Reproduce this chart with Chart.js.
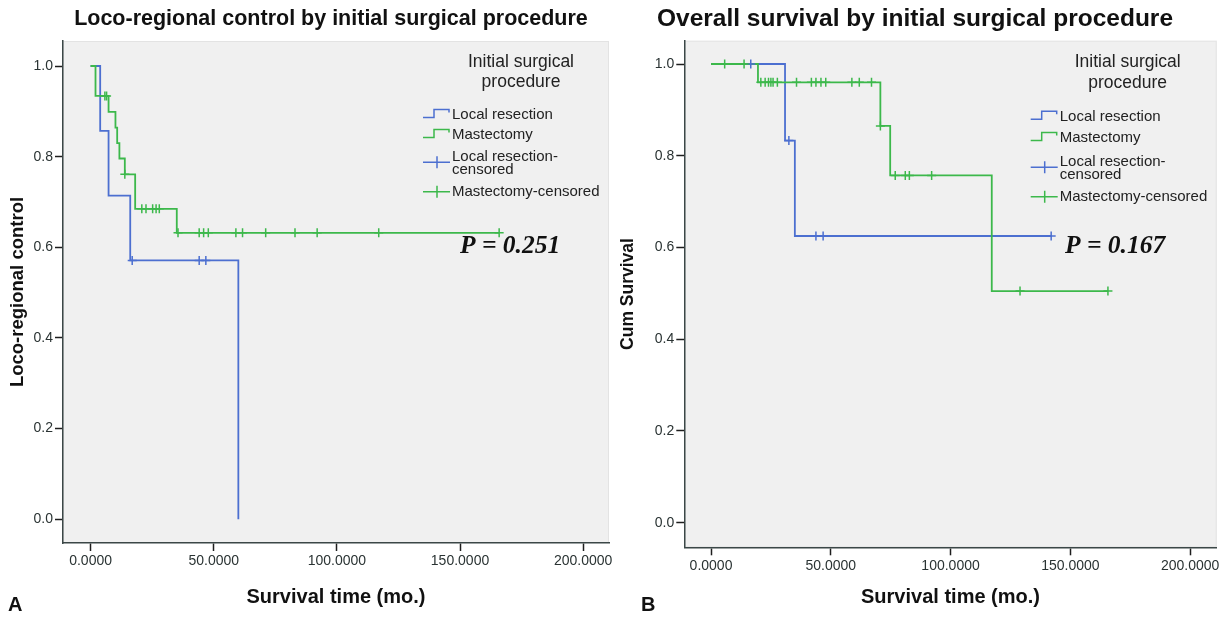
<!DOCTYPE html>
<html lang="en">
  <head>
    <meta charset="UTF-8" />
    <title>Loco-regional control and overall survival by initial surgical procedure</title>
    <script src="https://cdn.jsdelivr.net/npm/chart.js@4"></script>
    <style>
      body {
        margin: 0;
        width: 1230px;
        height: 619px;
        position: relative;
        overflow: hidden;
        background: #ffffff;
        font-family: Arial, 'Liberation Sans', sans-serif;
        color: #111;
      }

      canvas {
        position: absolute;
        top: 0;
      }

      #chartA {
        left: 0;
      }

      #chartB {
        left: 615px;
      }

      .chart-title {
        position: absolute;
        width: 640px;
        text-align: center;
        font-weight: bold;
        white-space: nowrap;
      }

      .panel-tag {
        position: absolute;
        top: 593px;
        font-weight: bold;
        font-size: 20px;
        line-height: 22px;
      }
    </style>
  </head>
  <body>
    <canvas id="chartA" width="615" height="619"></canvas>
    <canvas id="chartB" width="615" height="619"></canvas>

    <div class="chart-title" style="left: 11px; top: 5px; font-size: 21.5px; line-height: 26px">Loco-regional control by initial surgical procedure</div>
    <div class="chart-title" style="left: 595px; top: 4px; font-size: 24.5px; line-height: 28px">Overall survival by initial surgical procedure</div>
    <div class="panel-tag" style="left: 8px">A</div>
    <div class="panel-tag" style="left: 641px">B</div>

    <script>
      const xTicks = [0, 50, 100, 150, 200]
      const yTicks = [0, 0.2, 0.4, 0.6, 0.8, 1.0]

      const groupNames = ['Local resection', 'Mastectomy']
      const legendTitle = ['Initial surgical', 'procedure']

      // A - loco-regional control (step times in months, value after the step)
      const lcLocalTime = [0, 3.9, 7.3, 16.1, 60.0]
      const lcLocalSurv = [1.0, 0.857, 0.714, 0.571, 0.0]
      const lcLocalCens = [16.9, 44.1, 46.8]

      const lcMastTime = [0, 2.0, 7.3, 10.1, 10.8, 11.7, 13.9, 18.1, 35.0, 165.9]
      const lcMastSurv = [1.0, 0.934, 0.899, 0.864, 0.830, 0.796, 0.761, 0.685, 0.632, 0.632]
      const lcMastCens = [5.8, 6.5, 13.9, 20.8, 22.5, 25.2, 26.6, 27.9, 35.5, 44.1, 45.9, 47.8, 59.0, 61.7, 71.1, 83.0, 92.0, 117.0, 165.9]

      // B - overall survival
      const osLocalTime = [0, 30.9, 35.0, 142.0]
      const osLocalSurv = [1.0, 0.833, 0.625, 0.625]
      const osLocalCens = [16.6, 32.5, 43.8, 46.8, 142.0]

      const osMastTime = [0, 19.6, 70.7, 74.8, 117.2, 165.7]
      const osMastSurv = [1.0, 0.960, 0.865, 0.757, 0.505, 0.505]
      const osMastCens = [5.7, 13.8, 20.8, 22.6, 24.0, 25.0, 25.9, 27.7, 35.7, 41.9, 43.8, 45.9, 47.9, 58.8, 61.9, 67.0, 70.7, 76.9, 81.1, 82.8, 92.1, 129.0, 165.7]

      const BLUE = '#4c6fd0'
      const GREEN = '#3cb84b'
      const AXIS = '#3b4747'
      const FONT = 'Arial, "Liberation Sans", sans-serif'

      function stepAt(times, surv, t) {
        let s = surv[0]
        for (let i = 0; i < times.length; i++) {
          if (times[i] <= t) s = surv[i]
        }
        return s
      }

      function curvePoints(times, surv) {
        return times.map((t, i) => ({ x: t, y: surv[i] }))
      }

      function censorPoints(cens, times, surv) {
        return cens.map(t => ({ x: t, y: stepAt(times, surv, t) }))
      }

      function stepLine(points, color) {
        return {
          data: points,
          borderColor: color,
          borderWidth: 1.8,
          stepped: 'before',
          pointRadius: 0,
          fill: false,
        }
      }

      function censorMarks(points, color) {
        return {
          data: points,
          showLine: false,
          pointStyle: 'cross',
          pointRadius: 4.5,
          pointBorderColor: color,
          pointBorderWidth: 1.5,
          borderColor: color,
        }
      }

      // plot background, legend and p value
      const kmOverlay = {
        id: 'kmOverlay',
        beforeDraw(chart) {
          const { ctx, chartArea: a } = chart
          ctx.save()
          ctx.fillStyle = '#f0f0f0'
          ctx.fillRect(a.left, a.top, a.width, a.height)
          ctx.strokeStyle = '#e3e3e3'
          ctx.lineWidth = 1
          ctx.strokeRect(a.left + 0.5, a.top + 0.5, a.width - 1, a.height - 1)
          ctx.restore()
        },
        afterDraw(chart, args, opts) {
          const { ctx, chartArea: a } = chart
          const x0 = a.right + opts.textOffset
          ctx.save()
          ctx.fillStyle = '#222'
          ctx.textBaseline = 'middle'

          ctx.font = '17.5px ' + FONT
          ctx.textAlign = 'center'
          legendTitle.forEach((line, i) => {
            ctx.fillText(line, a.right + opts.titleCenter, a.top + opts.titleY[i])
          })

          ctx.font = '15px ' + FONT
          ctx.textAlign = 'left'
          const items = [
            { lines: [groupNames[0]], color: BLUE, kind: 'step' },
            { lines: [groupNames[1]], color: GREEN, kind: 'step' },
            { lines: [groupNames[0] + '-', 'censored'], color: BLUE, kind: 'cens' },
            { lines: [groupNames[1] + '-censored'], color: GREEN, kind: 'cens' },
          ]
          items.forEach((item, i) => {
            const ys = opts.itemY[i].map(v => a.top + v)
            item.lines.forEach((line, j) => ctx.fillText(line, x0, ys[j]))
            const yc = ys.length > 1 ? (ys[0] + ys[1]) / 2 - 1 : ys[0]
            ctx.strokeStyle = item.color
            ctx.lineWidth = 1.5
            ctx.beginPath()
            if (item.kind === 'step') {
              ctx.moveTo(x0 - 29, yc + 2.5)
              ctx.lineTo(x0 - 18, yc + 2.5)
              ctx.lineTo(x0 - 18, yc - 5.5)
              ctx.lineTo(x0 - 3, yc - 5.5)
              ctx.lineTo(x0 - 3, yc - 2.5)
            } else {
              ctx.moveTo(x0 - 29, yc)
              ctx.lineTo(x0 - 2, yc)
              ctx.moveTo(x0 - 15, yc - 6)
              ctx.lineTo(x0 - 15, yc + 6)
            }
            ctx.stroke()
          })

          ctx.fillStyle = '#111'
          ctx.font = 'italic bold 25.5px "Liberation Serif", "Times New Roman", serif'
          ctx.fillText(opts.pText, a.right + opts.pX, a.top + opts.pY)
          ctx.restore()
        },
      }

      function makeChart(canvasId, cfg) {
        const ctx = document.getElementById(canvasId).getContext('2d')
        return new Chart(ctx, {
          type: 'line',
          data: {
            datasets: [
              censorMarks(censorPoints(cfg.mastCens, cfg.mastTime, cfg.mastSurv), GREEN),
              censorMarks(censorPoints(cfg.localCens, cfg.localTime, cfg.localSurv), BLUE),
              stepLine(curvePoints(cfg.mastTime, cfg.mastSurv), GREEN),
              stepLine(curvePoints(cfg.localTime, cfg.localSurv), BLUE),
            ],
          },
          options: {
            responsive: false,
            animation: false,
            devicePixelRatio: 1,
            layout: {
              padding: { top: cfg.top, right: cfg.padRight, left: 0, bottom: 0 },
            },
            scales: {
              x: {
                type: 'linear',
                min: cfg.xMin,
                max: cfg.xMax,
                afterBuildTicks: scale => {
                  scale.ticks = xTicks.map(v => ({ value: v }))
                },
                afterFit: scale => {
                  scale.height = cfg.xHeight
                },
                ticks: {
                  callback: v => v.toFixed(4),
                  font: { size: 14, family: FONT },
                  color: '#2a3333',
                  padding: 2,
                  maxRotation: 0,
                  autoSkip: false,
                },
                grid: {
                  drawOnChartArea: false,
                  tickLength: 8,
                  tickColor: '#1e1e1e',
                  tickWidth: 1.5,
                },
                border: { color: AXIS, width: 1.5 },
                title: {
                  display: true,
                  text: 'Survival time (mo.)',
                  font: { size: 20, weight: 'bold', family: FONT },
                  color: '#111',
                  padding: { top: 0, bottom: cfg.xTitlePad },
                },
              },
              y: {
                type: 'linear',
                min: cfg.yMin,
                max: cfg.yMax,
                afterBuildTicks: scale => {
                  scale.ticks = yTicks.map(v => ({ value: v }))
                },
                afterFit: scale => {
                  scale.width = cfg.yWidth
                },
                ticks: {
                  callback: v => v.toFixed(1),
                  font: { size: 14, family: FONT },
                  color: '#2a3333',
                  padding: 2,
                },
                grid: {
                  drawOnChartArea: false,
                  tickLength: 8,
                  tickColor: '#1e1e1e',
                  tickWidth: 1.5,
                },
                border: { color: AXIS, width: 1.5 },
                title: {
                  display: true,
                  text: cfg.yTitle,
                  font: { size: cfg.yTitleSize, weight: 'bold', family: FONT },
                  color: '#111',
                  padding: { top: cfg.yTitlePad, bottom: 0 },
                },
              },
            },
            plugins: {
              legend: { display: false },
              tooltip: { enabled: false },
              kmOverlay: cfg.overlay,
            },
          },
          plugins: [kmOverlay],
        })
      }

      makeChart('chartA', {
        localTime: lcLocalTime,
        localSurv: lcLocalSurv,
        localCens: lcLocalCens,
        mastTime: lcMastTime,
        mastSurv: lcMastSurv,
        mastCens: lcMastCens,
        yTitle: 'Loco-regional control',
        yTitleSize: 18.5,
        top: 41,
        padRight: 3,
        xMin: -11.2,
        xMax: 210.5,
        yMin: -0.0523,
        yMax: 1.0552,
        xHeight: 76,
        yWidth: 63,
        xTitlePad: 10,
        yTitlePad: 6.9,
        overlay: {
          textOffset: -157,
          titleCenter: -88,
          titleY: [20.7, 40.7],
          itemY: [[74], [94], [115.7, 129], [150.7]],
          pText: 'P = 0.251',
          pX: -149,
          pY: 205.7,
        },
      })

      makeChart('chartB', {
        localTime: osLocalTime,
        localSurv: osLocalSurv,
        localCens: osLocalCens,
        mastTime: osMastTime,
        mastSurv: osMastSurv,
        mastCens: osMastCens,
        yTitle: 'Cum Survival',
        yTitleSize: 17.5,
        top: 40.7,
        padRight: 13.3,
        xMin: -11.15,
        xMax: 211.1,
        yMin: -0.0536,
        yMax: 1.0508,
        xHeight: 71.7,
        yWidth: 69.3,
        xTitlePad: 10,
        yTitlePad: 2.5,
        overlay: {
          textOffset: -157,
          titleCenter: -89,
          titleY: [21, 42.6],
          itemY: [[76], [97.3], [121, 134.3], [156]],
          pText: 'P = 0.167',
          pX: -151.7,
          pY: 206,
        },
      })
    </script>
  </body>
</html>
